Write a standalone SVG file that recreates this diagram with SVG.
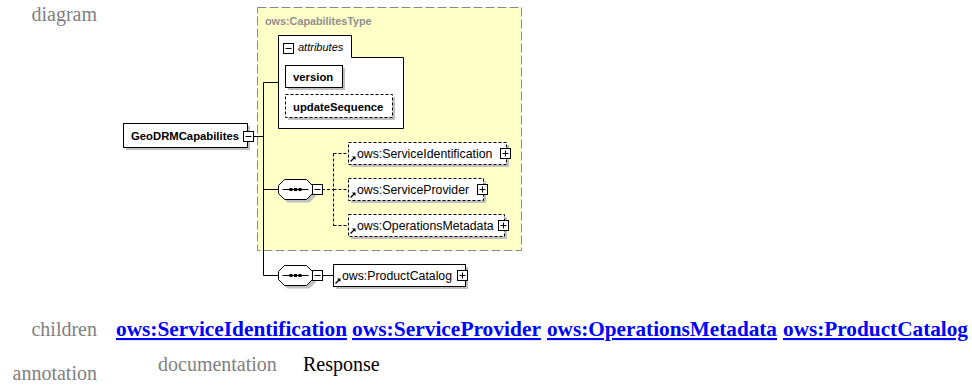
<svg xmlns="http://www.w3.org/2000/svg" width="972" height="386" viewBox="0 0 972 386">
<style>
.lbl{font-family:"Liberation Serif","Times New Roman",serif;font-size:20px;fill:#808080}
.link{font-family:"Liberation Serif","Times New Roman",serif;font-size:21px;font-weight:bold;fill:#0000ff;text-decoration:underline}
.doc{font-family:"Liberation Serif","Times New Roman",serif;font-size:20px;fill:#000}
.el{font-family:"Liberation Sans",Arial,sans-serif;font-size:12.3px;fill:#000}
.bold{font-family:"Liberation Sans",Arial,sans-serif;font-size:11.3px;font-weight:bold;fill:#000}
.box{fill:#fff;stroke:#000;stroke-width:1}
.dbox{fill:#fff;stroke:#000;stroke-width:1;stroke-dasharray:3,2}
.sh{fill:#c0c0c0}
.ln{stroke:#000;stroke-width:1;fill:none}
.dln{stroke:#000;stroke-width:1;fill:none;stroke-dasharray:3,2}
.ic{fill:#fff;stroke:#000;stroke-width:1}
</style>
<defs>
<g id="plus"><rect class="ic" x="0" y="0" width="10" height="10"/><path class="ln" d="M2,5H8M5,2V8"/></g>
<g id="minus"><rect class="ic" x="0" y="0" width="10" height="10"/><path class="ln" d="M2,5H8"/></g>
<g id="refarrow"><path d="M0.5,5.5L4.5,1.5" stroke="#000" stroke-width="1.3"/><path d="M2,0.5H5.5V4Z" fill="#000"/></g>
<g id="seq">
<polygon class="sh" points="9,3 31,3 37,9 37,17 31,23 9,23 3,17 3,9"/>
<polygon fill="#fff" stroke="#000" points="6,0 28,0 34,6 34,14 28,20 6,20 0,14 0,6"/>
<path class="ln" d="M4,10H30"/>
<rect x="11" y="8.5" width="3" height="3" fill="#000"/><rect x="15.5" y="8.5" width="3" height="3" fill="#000"/><rect x="20" y="8.5" width="3" height="3" fill="#000"/>
</g>
</defs>
<rect width="972" height="386" fill="#fff"/>

<text class="lbl" x="97" y="21" text-anchor="end">diagram</text>

<g id="typebox">
<rect x="257.5" y="7.5" width="264" height="243" fill="#ffffc8" stroke="#8a8a8a" stroke-dasharray="9,3"/>
<text x="265" y="25" font-family="Liberation Sans,Arial,sans-serif" font-size="10.8px" font-weight="bold" fill="#8f8f8f">ows:CapabilitesType</text>
</g>

<g id="connectors">
<path class="ln" d="M254,136.5H263.5M263.5,82.5V275.5M263.5,82.5H278M263.5,189.5H278M263.5,275.5H278"/>
<path class="dln" d="M322,189.5H333.5M333.5,153.5V225.5M333.5,153.5H348M333.5,189.5H348M333.5,225.5H348"/>
<path class="ln" d="M322,275.5H333"/>
</g>

<g id="GeoDRMCapabilites">
<rect class="sh" x="126" y="126" width="124" height="24"/>
<rect class="box" x="123.5" y="123.5" width="124" height="24"/>
<text class="bold" x="131" y="139.5" font-size="11px">GeoDRMCapabilites</text>
<use href="#minus" x="243.5" y="131.5"/>
</g>

<g id="attributes">
<path class="box" d="M278.5,35.5H351.5V57.5H403.5V128.5H278.5Z"/>
<use href="#minus" x="283.5" y="43.5"/>
<text x="298" y="51" font-family="Liberation Sans,Arial,sans-serif" font-size="11px" font-style="italic" fill="#000">attributes</text>
</g>

<g id="version">
<rect class="sh" x="288" y="68" width="57" height="22"/>
<rect class="box" x="285.5" y="65.5" width="57" height="22"/>
<text class="bold" x="293" y="80.5">version</text>
</g>

<g id="updateSequence">
<rect class="sh" x="288" y="97" width="107" height="23"/>
<rect class="dbox" x="285.5" y="94.5" width="107" height="23"/>
<text class="bold" x="293" y="110.5">updateSequence</text>
</g>

<g id="sequence1">
<use href="#seq" x="278.5" y="179.5"/>
<use href="#minus" x="312.5" y="184.5"/>
</g>

<g id="ServiceIdentification">
<rect class="sh" x="351" y="145" width="158" height="22"/>
<rect class="dbox" x="348.5" y="142.5" width="158" height="22"/>
<use href="#refarrow" x="350" y="156"/>
<text class="el" x="357" y="158">ows:ServiceIdentification</text>
<use href="#plus" x="500.5" y="148.5"/>
</g>

<g id="ServiceProvider">
<rect class="sh" x="351" y="181" width="135" height="22"/>
<rect class="dbox" x="348.5" y="178.5" width="135" height="22"/>
<use href="#refarrow" x="350" y="192"/>
<text class="el" x="357" y="194">ows:ServiceProvider</text>
<use href="#plus" x="477.5" y="184.5"/>
</g>

<g id="OperationsMetadata">
<rect class="sh" x="351" y="217" width="156" height="22"/>
<rect class="dbox" x="348.5" y="214.5" width="156" height="22"/>
<use href="#refarrow" x="350" y="228"/>
<text class="el" x="357" y="230">ows:OperationsMetadata</text>
<use href="#plus" x="498.5" y="220.5"/>
</g>

<g id="sequence2">
<use href="#seq" x="278.5" y="265.5"/>
<use href="#minus" x="312.5" y="270.5"/>
</g>

<g id="ProductCatalog">
<rect class="sh" x="336" y="267" width="132" height="22"/>
<rect class="box" x="333.5" y="264.5" width="132" height="22"/>
<use href="#refarrow" x="335" y="278"/>
<text class="el" x="342" y="280">ows:ProductCatalog</text>
<use href="#plus" x="457.5" y="270.5"/>
</g>

<g id="children">
<text class="lbl" x="97" y="336" text-anchor="end">children</text>
<text class="link" x="116" y="336" textLength="231" lengthAdjust="spacingAndGlyphs">ows:ServiceIdentification</text>
<text class="link" x="352" y="336" textLength="189" lengthAdjust="spacingAndGlyphs">ows:ServiceProvider</text>
<text class="link" x="547" y="336" textLength="230" lengthAdjust="spacingAndGlyphs">ows:OperationsMetadata</text>
<text class="link" x="783" y="336" textLength="185" lengthAdjust="spacingAndGlyphs">ows:ProductCatalog</text>
</g>

<g id="annotation">
<text class="lbl" x="97" y="380" text-anchor="end">annotation</text>
<text class="lbl" x="158" y="371">documentation</text>
<text class="doc" x="303" y="371">Response</text>
</g>
</svg>
